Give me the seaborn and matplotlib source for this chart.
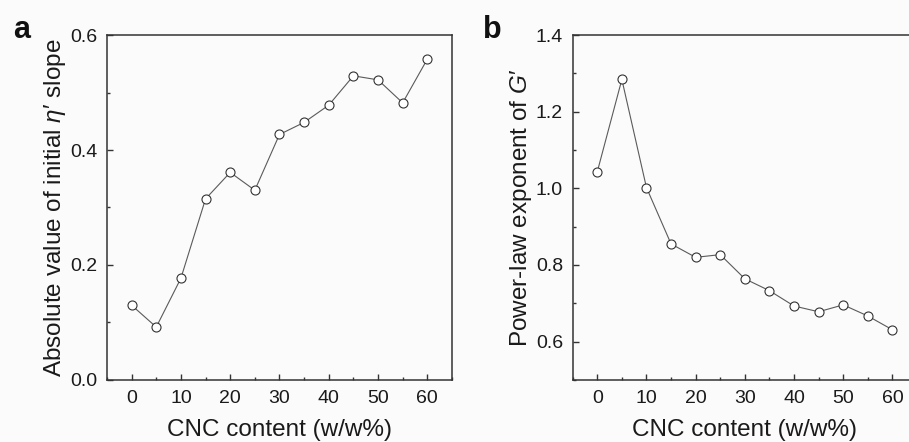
import matplotlib
matplotlib.use("Agg")
import matplotlib.pyplot as plt
from matplotlib.ticker import MultipleLocator
import seaborn as sns
import pandas as pd

# === DATA ===
cnc_content = [0, 5, 10, 15, 20, 25, 30, 35, 40, 45, 50, 55, 60]
eta_slope = [0.130, 0.092, 0.177, 0.315, 0.361, 0.330, 0.427, 0.448, 0.478, 0.529, 0.522, 0.482, 0.558]
g_exponent = [1.043, 1.284, 1.002, 0.855, 0.820, 0.827, 0.764, 0.733, 0.693, 0.678, 0.696, 0.667, 0.631]

x_ticks = [0, 10, 20, 30, 40, 50, 60]
xlabel = "CNC content (w/w%)"
ylabel_a = "Absolute value of initial $\\eta$\u2032 slope"
ylabel_b = "Power-law exponent of $G$\u2032"

df = pd.DataFrame({"cnc": cnc_content, "eta": eta_slope, "g": g_exponent})

# === STYLE ===
sns.set_theme(style="ticks")
plt.rcParams["font.family"] = ["Liberation Sans", "DejaVu Sans"]
plt.rcParams["mathtext.fontset"] = "custom"
plt.rcParams["mathtext.rm"] = "Liberation Sans"
plt.rcParams["mathtext.it"] = "Liberation Sans:italic"
plt.rcParams["axes.edgecolor"] = "#333333"
plt.rcParams["axes.linewidth"] = 1.1

fig = plt.figure(figsize=(9.09, 4.42), dpi=100)
fig.patch.set_facecolor("#fbfbfb")
ax_a = fig.add_axes([0.1177, 0.1403, 0.3795, 0.7805])
ax_b = fig.add_axes([0.630, 0.1403, 0.3788, 0.7805])

line_kw = dict(color="#5a5a5a", linewidth=0.8, marker="o", markersize=6.5,
               markerfacecolor="white", markeredgecolor="#333333", markeredgewidth=0.8)

sns.lineplot(data=df, x="cnc", y="eta", ax=ax_a, **line_kw)
sns.lineplot(data=df, x="cnc", y="g", ax=ax_b, **line_kw)

for ax, ylab, ylim, ymaj in [(ax_a, ylabel_a, (0, 0.6), 0.2), (ax_b, ylabel_b, (0.5, 1.4), 0.2)]:
    ax.set_facecolor("#fbfbfb")
    ax.set_xlim(-5, 65)
    ax.set_ylim(*ylim)
    ax.set_xticks(x_ticks)
    ax.xaxis.set_minor_locator(MultipleLocator(5))
    ax.yaxis.set_major_locator(MultipleLocator(ymaj))
    ax.yaxis.set_minor_locator(MultipleLocator(ymaj / 2))
    ax.tick_params(which="both", direction="in", colors="#333333", labelcolor="#1a1a1a",
                   labelsize=14, top=False, right=False)
    ax.tick_params(which="major", length=4, width=1.0, pad=7)
    ax.tick_params(which="minor", length=2.2, width=1.0)
    ax.set_xlabel(xlabel, fontsize=17.5, labelpad=9, color="#1a1a1a")
    ax.set_ylabel(ylab, fontsize=17.5, labelpad=1.5, color="#1a1a1a")
    for s in ax.spines.values():
        s.set_visible(True)

ax_b.set_yticks([0.6, 0.8, 1.0, 1.2, 1.4])

fig.text(0.014, 0.915, "a", fontsize=22, fontweight="bold", color="#111111")
fig.text(0.531, 0.915, "b", fontsize=22, fontweight="bold", color="#111111")

fig.savefig("out.png", dpi=100, facecolor=fig.get_facecolor())
